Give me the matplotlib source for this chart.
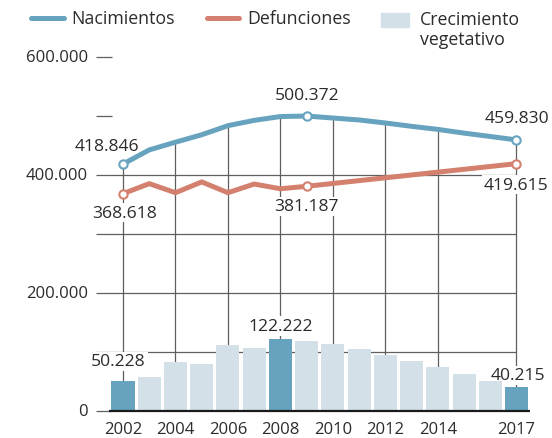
import matplotlib.pyplot as plt
from matplotlib.lines import Line2D
from matplotlib.patches import Rectangle

plt.rcParams['font.family'] = ['Open Sans', 'DejaVu Sans']

# Datos
years = list(range(2002, 2018))
nacimientos = [418846, 442900, 456000, 468600, 484000, 493000, 499500, 500372,
               497000, 493700, 488600, 482900, 477700, 471400, 465700, 459830]
defunciones = [368618, 385700, 370300, 388600, 370300, 385000, 377000, 381187,
               386000, 390800, 395600, 400400, 405200, 410000, 414800, 419615]
crecimiento = [50228, 57400, 83000, 79500, 112000, 106800, 122222, 118800,
               113600, 105100, 94900, 84700, 74400, 62500, 50600, 40215]
destacados_barras = [2002, 2008, 2017]
idx_marcas = [0, 7, 15]
anos_guia = [2002, 2004, 2006, 2008, 2010, 2012, 2014, 2017]
yticks = [0, 200000, 400000, 600000]

AZUL = '#67a3bf'
ROJO = '#d4806e'
CLARO = '#d3e0e8'
TEXTO = '#2b2b2b'
GRIS = '#5f5f5f'

def fmt(v):
    return f'{v:,}'.replace(',', '.')

fig = plt.figure(figsize=(5.52, 4.39), dpi=100)
ax = fig.add_axes([0, 0, 1, 1])
ax.set_axis_off()

ppy = 26.233
ax.set_xlim(2002 - 123 / ppy, 2002 + (552 - 123) / ppy)
ppv = 353.7 / 600000
ax.set_ylim(-(439 - 412) / ppv, 412 / ppv)

x0 = 2002 - 27 / ppy
# rejilla horizontal
ax.hlines([100000, 200000, 300000, 400000], x0, 2017, color=GRIS, lw=0.9, zorder=1)
ax.hlines([0, 500000, 600000], x0, x0 + 16 / ppy, color=GRIS, lw=0.9, zorder=1)
for t in yticks:
    ax.text(x0 - 8 / ppy, t, fmt(t), ha='right', va='center', fontsize=12, color=TEXTO)

# líneas guía verticales
for yr in anos_guia:
    ax.vlines(yr, 0, nacimientos[years.index(yr)], color=GRIS, lw=0.9, zorder=1)

# barras
colores = [AZUL if y in destacados_barras else CLARO for y in years]
ax.bar(years, crecimiento, width=0.877, color=colores, zorder=2)
ax.hlines(0, 2002 - 14 / ppy, 2017 + 13.5 / ppy, color='#1a1a1a', lw=1.6, zorder=3)

# líneas
ax.plot(years, nacimientos, color=AZUL, lw=3.6, solid_joinstyle='round',
        solid_capstyle='round', zorder=5)
ax.plot(years, defunciones, color=ROJO, lw=3.6, solid_joinstyle='round',
        solid_capstyle='round', zorder=5)
for serie, col in [(nacimientos, AZUL), (defunciones, ROJO)]:
    ax.plot([years[i] for i in idx_marcas], [serie[i] for i in idx_marcas], 'o',
            ms=6, mfc='white', mec=col, mew=1.5, zorder=6)

caja = dict(boxstyle='square,pad=0.1', fc='white', ec='none')

def etiqueta(x, y, txt, dx, dy, z=4):
    ax.annotate(txt, (x, y), xytext=(dx * 0.72, dy * 0.72), textcoords='offset points',
                ha='center', va='center', fontsize=12.6, color=TEXTO, bbox=caja, zorder=z)

offs_nac = [(-16, 18), (0, 21.5), (0, 21.5)]
offs_def = [(2, -19), (0, -20), (0, -21)]
for i, o1, o2 in zip(idx_marcas, offs_nac, offs_def):
    etiqueta(years[i], nacimientos[i], fmt(nacimientos[i]), *o1)
    etiqueta(years[i], defunciones[i], fmt(defunciones[i]), *o2)
offs_bar = {2002: (-4.5, 20), 2008: (0, 13), 2017: (1, 12)}
for yr in destacados_barras:
    v = crecimiento[years.index(yr)]
    etiqueta(yr, v, fmt(v), *offs_bar[yr], z=1.5)

# eje x
for yr in anos_guia:
    ax.text(yr, -(430 - 412) / ppv, str(yr), ha='center', va='center',
            fontsize=12, color=TEXTO)

# leyenda
W, H = 552.0, 439.0
def fx(px):
    return px / W
def fy(py):
    return 1 - py / H

fig.add_artist(Line2D([fx(31), fx(64)], [fy(19), fy(19)], color=AZUL, lw=3.6,
                      solid_capstyle='round'))
fig.text(fx(71), fy(19), 'Nacimientos', ha='left', va='center', fontsize=12.8, color=TEXTO)
fig.add_artist(Line2D([fx(207), fx(239)], [fy(19), fy(19)], color=ROJO, lw=3.6,
                      solid_capstyle='round'))
fig.text(fx(247), fy(19), 'Defunciones', ha='left', va='center', fontsize=12.8, color=TEXTO)
fig.add_artist(Rectangle((fx(380.7), fy(27.7)), fx(408.7) - fx(380.7), fy(14) - fy(27.7),
                         transform=fig.transFigure, color=CLARO))
fig.text(fx(420), fy(25), 'Crecimiento', ha='left', va='baseline',
         fontsize=12.8, color=TEXTO)
fig.text(fx(420), fy(45), 'vegetativo', ha='left', va='baseline',
         fontsize=12.8, color=TEXTO)

fig.savefig('out.png', dpi=100)
